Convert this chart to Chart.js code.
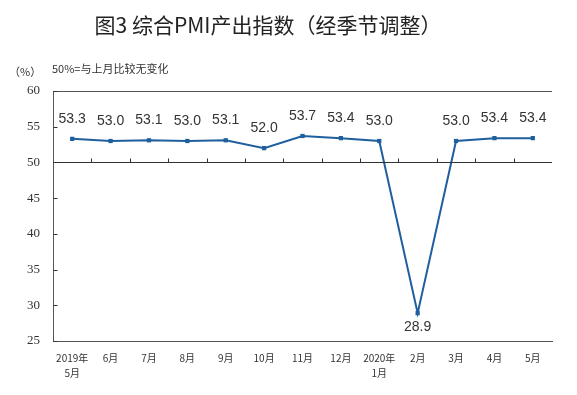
<!DOCTYPE html>
<html><head><meta charset="utf-8">
<script src="https://cdn.jsdelivr.net/npm/chart.js@4/dist/chart.umd.min.js"></script>
<style>html,body{margin:0;padding:0;background:#fff}#wrap{width:577px;height:395px;position:relative}</style>
</head><body><div id="wrap"><canvas id="c" width="577" height="395"></canvas></div>
<script>
const categories = [["2019年","5月"],"6月","7月","8月","9月","10月","11月","12月",["2020年","1月"],"2月","3月","4月","5月"];
const pmiValues = [53.3,53.0,53.1,53.0,53.1,52.0,53.7,53.4,53.0,28.9,53.0,53.4,53.4];
const yTicks = [25,30,35,40,45,50,55,60];
const titleText = "图3 综合PMI产出指数（经季节调整）";
const unitText = "（%）";
const noteText = "50%=与上月比较无变化";
const baseValue = 50;

const textPlugin = {
  id: 'texts',
  afterDraw(chart) {
    const ctx = chart.ctx;
    const xs = chart.scales.x, ys = chart.scales.y;
    ctx.save();
    const y50 = Math.round(ys.getPixelForValue(baseValue)) + 0.5;
    ctx.strokeStyle = '#333';
    ctx.lineWidth = 1;
    ctx.beginPath();
    ctx.moveTo(chart.chartArea.left, y50);
    ctx.lineTo(chart.chartArea.right, y50);
    for (let i = 1; i < categories.length; i++) {
      const bx = Math.round((xs.getPixelForValue(i - 1) + xs.getPixelForValue(i)) / 2) + 0.5;
      ctx.moveTo(bx, y50);
      ctx.lineTo(bx, y50 - 4);
    }
    const lx = Math.round(chart.chartArea.left) + 0.5;
    yTicks.forEach(v => {
      const py = Math.round(ys.getPixelForValue(v)) + 0.5;
      ctx.moveTo(lx, py);
      ctx.lineTo(lx + 4, py);
    });
    ctx.stroke();

    ctx.fillStyle = '#222';
    ctx.textBaseline = 'middle';
    ctx.textAlign = 'center';
    ctx.font = '21px "Noto Sans CJK SC"';
    ctx.fillText(titleText, 268, 25);
    ctx.fillStyle = '#333';
    ctx.textAlign = 'left';
    ctx.font = '11px "Noto Sans CJK SC"';
    ctx.fillText(unitText, 9, 72);
    ctx.fillText(noteText, 52, 69);
    ctx.restore();
  }
};

const labelPlugin = {
  id: 'valueLabels',
  afterDatasetsDraw(chart) {
    const ctx = chart.ctx;
    const meta = chart.getDatasetMeta(0);
    ctx.save();
    ctx.font = '14px "Liberation Sans"';
    ctx.fillStyle = '#333';
    ctx.textAlign = 'center';
    ctx.textBaseline = 'middle';
    meta.data.forEach((pt, i) => {
      const v = pmiValues[i];
      ctx.fillText(v.toFixed(1), pt.x, v < baseValue ? pt.y + 14 : pt.y - 20);
    });
    ctx.restore();
  }
};

new Chart(document.getElementById('c'), {
  type: 'line',
  data: {
    labels: categories,
    datasets: [{
      data: pmiValues,
      borderColor: '#1f5f9e',
      backgroundColor: '#1f5f9e',
      borderWidth: 2,
      pointStyle: 'rect',
      pointRadius: 3,
      pointBorderWidth: 0,
      tension: 0,
      clip: false
    }]
  },
  options: {
    responsive: false,
    animation: false,
    devicePixelRatio: 1,
    layout: { padding: { top: 91, right: 25, bottom: 4, left: 14 } },
    plugins: { legend: { display: false }, tooltip: { enabled: false }, title: { display: false } },
    scales: {
      x: {
        type: 'category',
        position: 'bottom',
        offset: true,
        grid: {
          offset: true,
          drawTicks: false,
          color: (c) => (c.index === categories.length ? '#555' : 'rgba(0,0,0,0)'),
          lineWidth: 1
        },
        border: { display: true, color: '#555', width: 1 },
        ticks: { color: '#333', font: { family: '"Noto Sans CJK SC"', size: 10, lineHeight: 1.5 }, padding: 10, maxRotation: 0, autoSkip: false }
      },
      y: {
        min: 25, max: 60,
        afterBuildTicks: (s) => { s.ticks = yTicks.map(v => ({ value: v })); },
        grid: {
          drawOnChartArea: true,
          drawTicks: false,
          color: (c) => (c.tick && c.tick.value === 60 ? '#555' : 'rgba(0,0,0,0)')
        },
        border: { display: true, color: '#555', width: 1 },
        ticks: { color: '#333', font: { family: '"Liberation Serif"', size: 13 }, padding: 13 }
      }
    }
  },
  plugins: [labelPlugin, textPlugin]
});
</script></body></html>
